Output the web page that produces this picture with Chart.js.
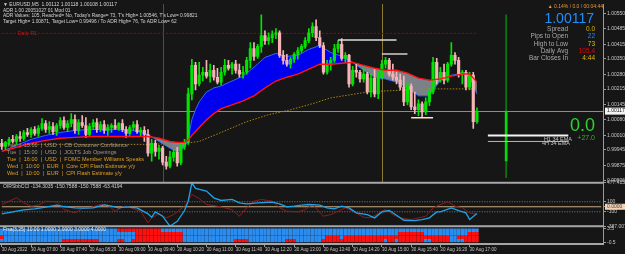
<!DOCTYPE html>
<html>
<head>
<meta charset="utf-8">
<title>EURUSD M5</title>
<script src="https://cdn.jsdelivr.net/npm/chart.js@4.4.1/dist/chart.umd.min.js"></script>
<style>
  html, body { margin: 0; padding: 0; background: #161616; }
  canvas { display: block; }
</style>
</head>
<body>
<canvas id="chart" width="625" height="254"></canvas>
<script>
// ---- data (M5 bars from 06:20) ----
var open = [0.99974,0.99960,0.99978,0.99991,0.99982,1.00004,0.99996,1.00022,1.00013,1.00035,
  1.00018,1.00040,1.00062,1.00035,1.00048,1.00026,1.00053,1.00075,1.00044,1.00062,
  1.00079,1.00031,1.00066,1.00053,1.00013,1.00048,1.00066,1.00035,1.00057,1.00031,
  1.00044,1.00053,1.00040,1.00062,1.00035,1.00018,1.00044,1.00057,1.00026,1.00031,
  1.00013,0.99930,0.99974,0.99938,0.99952,0.99890,0.99872,0.99912,0.99934,0.99886,
  0.99960,0.99978,1.00194,1.00321,1.00238,1.00277,1.00290,1.00273,1.00299,1.00268,
  1.00246,1.00290,1.00321,1.00308,1.00326,1.00299,1.00282,1.00290,1.00343,1.00396,
  1.00361,1.00405,1.00453,1.00431,1.00444,1.00458,1.00466,1.00365,1.00343,1.00326,
  1.00348,1.00370,1.00387,1.00405,1.00431,1.00466,1.00493,1.00444,1.00409,1.00290,
  1.00326,1.00343,1.00396,1.00414,1.00352,1.00365,1.00238,1.00299,1.00290,1.00260,
  1.00282,1.00202,1.00264,1.00194,1.00268,1.00326,1.00343,1.00282,1.00268,1.00255,
  1.00224,1.00158,1.00229,1.00136,1.00123,1.00150,1.00114,1.00158,1.00202,1.00334,
  1.00255,1.00290,1.00255,1.00326,1.00365,1.00343,1.00282,1.00290,1.00224,1.00277,
  1.00070];
var high = [0.99991,0.99982,1.00000,1.00009,1.00013,1.00026,1.00031,1.00040,1.00044,1.00048,
  1.00053,1.00084,1.00075,1.00070,1.00066,1.00062,1.00088,1.00092,1.00075,1.00106,
  1.00101,1.00079,1.00097,1.00088,1.00062,1.00079,1.00084,1.00070,1.00075,1.00057,
  1.00062,1.00079,1.00066,1.00079,1.00048,1.00053,1.00070,1.00075,1.00044,1.00048,
  1.00035,0.99991,0.99987,0.99965,0.99960,0.99916,0.99938,0.99947,0.99956,0.99974,
  0.99991,1.00220,1.00348,1.00334,1.00334,1.00312,1.00343,1.00326,1.00321,1.00308,
  1.00312,1.00348,1.00343,1.00334,1.00343,1.00326,1.00317,1.00356,1.00422,1.00422,
  1.00414,1.00546,1.00475,1.00466,1.00475,1.00484,1.00475,1.00387,1.00370,1.00356,
  1.00378,1.00400,1.00414,1.00444,1.00484,1.00510,1.00524,1.00475,1.00422,1.00343,
  1.00356,1.00414,1.00431,1.00440,1.00378,1.00370,1.00317,1.00326,1.00299,1.00308,
  1.00290,1.00282,1.00308,1.00290,1.00343,1.00356,1.00352,1.00326,1.00290,1.00282,
  1.00273,1.00246,1.00238,1.00202,1.00167,1.00158,1.00176,1.00220,1.00356,1.00352,
  1.00312,1.00326,1.00334,1.00422,1.00378,1.00356,1.00299,1.00299,1.00290,1.00290,
  1.00132];
var low = [0.99947,0.99943,0.99965,0.99974,0.99969,0.99982,0.99987,1.00004,1.00000,1.00009,
  1.00004,1.00031,1.00022,1.00018,1.00013,1.00009,1.00040,1.00035,1.00026,1.00048,
  1.00018,1.00013,1.00044,1.00000,1.00004,1.00035,1.00022,1.00026,1.00018,1.00009,
  1.00022,1.00035,1.00031,1.00026,1.00000,1.00009,1.00031,1.00018,1.00004,0.99982,
  0.99916,0.99894,0.99916,0.99903,0.99877,0.99859,0.99864,0.99894,0.99872,0.99877,
  0.99947,0.99969,1.00167,1.00211,1.00229,1.00251,1.00264,1.00246,1.00255,1.00238,
  1.00233,1.00277,1.00299,1.00282,1.00286,1.00268,1.00264,1.00282,1.00308,1.00343,
  1.00352,1.00378,1.00414,1.00414,1.00422,1.00440,1.00356,1.00326,1.00317,1.00308,
  1.00334,1.00348,1.00378,1.00396,1.00422,1.00449,1.00431,1.00400,1.00282,1.00282,
  1.00299,1.00334,1.00378,1.00343,1.00334,1.00224,1.00229,1.00268,1.00246,1.00246,
  1.00194,1.00180,1.00180,1.00172,1.00260,1.00308,1.00273,1.00255,1.00238,1.00211,
  1.00141,1.00145,1.00123,1.00106,1.00097,1.00088,1.00101,1.00141,1.00194,1.00238,
  1.00246,1.00238,1.00246,1.00317,1.00326,1.00268,1.00238,1.00211,1.00211,1.00040,
  1.00062];
var close = [0.99960,0.99978,0.99991,0.99982,1.00004,0.99996,1.00022,1.00013,1.00035,1.00018,
  1.00040,1.00062,1.00035,1.00048,1.00026,1.00053,1.00075,1.00044,1.00062,1.00079,
  1.00031,1.00066,1.00053,1.00013,1.00048,1.00066,1.00035,1.00057,1.00031,1.00044,
  1.00053,1.00040,1.00062,1.00035,1.00018,1.00044,1.00057,1.00026,1.00031,1.00013,
  0.99930,0.99974,0.99938,0.99952,0.99890,0.99872,0.99912,0.99934,0.99886,0.99960,
  0.99978,1.00194,1.00321,1.00238,1.00277,1.00290,1.00273,1.00299,1.00268,1.00246,
  1.00290,1.00321,1.00308,1.00326,1.00299,1.00282,1.00290,1.00343,1.00396,1.00361,
  1.00405,1.00453,1.00431,1.00444,1.00458,1.00466,1.00365,1.00343,1.00326,1.00348,
  1.00370,1.00387,1.00405,1.00431,1.00466,1.00493,1.00444,1.00409,1.00290,1.00326,
  1.00343,1.00396,1.00414,1.00352,1.00365,1.00238,1.00299,1.00290,1.00260,1.00282,
  1.00202,1.00264,1.00194,1.00268,1.00326,1.00343,1.00282,1.00268,1.00255,1.00224,
  1.00158,1.00229,1.00136,1.00123,1.00150,1.00114,1.00158,1.00202,1.00334,1.00255,
  1.00290,1.00255,1.00326,1.00365,1.00343,1.00282,1.00290,1.00224,1.00277,1.00070,
  1.00117];

// moving averages (bar index -> value)
var emaIdx = [0,4,8,12,16,20,24,28,32,36,40,43,46,48,50,51,52,53,54,56,58,60,63,66,69,72,75,78,81,84,87,90,93,96,99,102,105,108,111,114,117,120,123,126,128,130];
var emaFast = [0.99938,0.99965,0.99991,1.00009,1.00022,1.00031,1.00035,1.00035,1.00035,1.00031,1.00013,0.99982,0.99952,0.99934,0.99956,0.99996,1.00079,1.00123,1.00158,1.00202,1.00220,1.00229,1.00251,1.00273,1.00312,1.00356,1.00374,1.00361,1.00365,1.00392,1.00409,1.00378,1.00361,1.00334,1.00299,1.00268,1.00260,1.00246,1.00220,1.00185,1.00185,1.00255,1.00277,1.00286,1.00268,1.00194];
var emaSlow = [0.99938,0.99956,0.99974,0.99987,0.99996,1.00000,1.00004,1.00004,1.00004,1.00004,1.00004,0.99996,0.99982,0.99978,0.99978,0.99987,1.00009,1.00026,1.00044,1.00079,1.00106,1.00128,1.00145,1.00163,1.00185,1.00220,1.00251,1.00268,1.00282,1.00304,1.00326,1.00326,1.00330,1.00334,1.00321,1.00308,1.00299,1.00299,1.00286,1.00264,1.00255,1.00260,1.00273,1.00282,1.00282,1.00246];
var maIdx = [0,10,20,30,40,50,54,60,67,73,79,85,90,95,100,105,111,117,123,130];
var maSlow = [0.99965,0.99969,0.99969,0.99969,0.99969,0.99974,0.99982,1.00022,1.00070,1.00101,1.00123,1.00150,1.00176,1.00189,1.00202,1.00207,1.00211,1.00216,1.00216,1.00216];

// CCI window
var cciIdx = [0,3,6,9,12,15,17,20,22,25,28,30,32,34,37,40,41,42,44,46,48,50,51,52,53,56,58,60,63,65,67,70,74,76,78,80,82,84,87,89,91,93,95,97,100,102,104,106,108,110,113,115,117,119,120,123,125,127,128,130];
var cciMain = [-141,-102,-62,-42,-8,31,5,-22,-28,-22,38,12,-22,-2,-22,-141,-208,-102,-188,-387,-288,-75,111,477,364,311,178,125,145,78,58,78,91,58,-2,12,31,45,31,-22,-42,12,-22,-122,-155,-221,-102,-75,-168,-268,-274,-254,-221,-102,-102,-22,-75,-122,-254,-134];
var sigIdx = [0,2,4,6,8,10,12,15,17,20,22,24,27,29,31,33,34,38,40,41,43,45,47,50,52,54,56,59,61,63,65,67,69,71,74,76,78,81,83,85,88,90,92,94,96,99,101,104,105,107,109,112,114,116,118,120,122,124,126,128,130];
var cciSignal = [45,111,178,78,12,31,111,98,-55,-122,-35,-22,45,31,-88,-2,12,-88,-321,-221,-141,-221,-155,12,244,164,45,12,-22,-55,-188,-22,111,145,111,-22,-88,-102,-55,45,-188,-155,-88,-22,-88,-208,-221,-88,-55,-155,-221,-254,-221,-188,-22,45,98,12,-22,-122,-151];
var cciLevels = [100, -100];

// heat strip: bar ranges shown red, per row (top row first)
var heatRow3Red = [[32,43]];
var heatRow2Red = [[37,49],[109,115],[128,130]];
var heatRow1Red = [[0,0],[37,49],[89,92],[94,122],[125,130]];
var heatRow0Red = [[17,26],[32,33],[36,49],[64,67],[78,80],[88,104],[106,107],[109,115],[118,122],[127,130]];

// levels and drawn objects
var bid = 1.00117;
var dailyR1 = 1.00463;
var dayIdx = 138;
var dayOHLC = [0.99895, 1.00546, 0.99821, 1.00117];
var sessionIdx = [44, 104];
var levelLines = [[92,108,1.00434],[104,111,1.00371],[112,118,1.00088]];
var emaH1 = 1.00009, emaH4 = 0.99982;

// axis ticks
var priceTicks = [1.00550,1.00485,1.00415,1.00350,1.00280,1.00215,1.00145,1.00080,1.00010,0.99945,0.99875,0.99806];
var cciTicks = [477.4150, 100, 0, -100, -387.0071];
var heatTicks = [3.5, -0.5];
var tickIdx = [0,8,16,24,32,40,48,56,64,72,80,88,96,104,112,120,128];
var tickText = ['30 Aug 2022','30 Aug 07:00','30 Aug 07:40','30 Aug 08:20','30 Aug 09:00','30 Aug 09:40','30 Aug 10:20','30 Aug 11:00','30 Aug 11:40','30 Aug 12:20','30 Aug 13:00','30 Aug 13:40','30 Aug 14:20','30 Aug 15:00','30 Aug 15:40','30 Aug 16:20','30 Aug 17:00'];

var newsText = ['Tue  |  15:00  |  USD  |  CB Consumer Confidence','Tue  |  15:00  |  USD  |  JOLTS Job Openings','Tue  |  16:00  |  USD  |  FOMC Member Williams Speaks','Wed  |  10:00  |  EUR  |  Core CPI Flash Estimate y/y','Wed  |  10:00  |  EUR  |  CPI Flash Estimate y/y'];

// ---- build ----
var FONT = "'Liberation Sans', Arial, sans-serif";
var UP = '#00e400', DOWN = '#f6b4b8';
var slots = [];
for (var i = 0; i < 165; i++) {
  var m = 6 * 60 + 20 + 5 * i;
  slots.push(('0' + Math.floor(m / 60)).slice(-2) + ':' + ('0' + m % 60).slice(-2));
}
function pts(idx, vals) {
  return idx.map(function (k, j) { return { x: slots[k], y: vals[j] }; });
}
function hline(a, b, v) { return [{ x: slots[a], y: v }, { x: slots[b], y: v }]; }

var bodies = close.map(function (c, i) { return [Math.min(open[i], c), Math.max(open[i], c)]; });
var wicks = close.map(function (c, i) { return [low[i], high[i]]; });
var candleCol = close.map(function (c, i) { return c >= open[i] ? UP : DOWN; });
var dayBody = slots.map(function (s, i) { return i === dayIdx ? [dayOHLC[0], dayOHLC[3]] : null; });
var dayWick = slots.map(function (s, i) { return i === dayIdx ? [dayOHLC[2], dayOHLC[1]] : null; });

function heatRow(row, ranges) {
  var data = [], col = [];
  for (var i = 0; i < close.length; i++) {
    var red = ranges.some(function (r) { return i >= r[0] && i <= r[1]; });
    data.push([row - 0.42, row + 0.42]);
    col.push(red ? '#ff1010' : '#2b8df0');
  }
  return { type: 'bar', data: data, backgroundColor: col, yAxisID: 'yHeat', barThickness: 2.9, grouped: false, order: 10 };
}

var lineBase = { type: 'line', pointRadius: 0, borderWidth: 1, tension: 0, yAxisID: 'y' };
function line(opts) { return Object.assign({}, lineBase, opts); }

var datasets = [
  line({ data: pts(emaIdx, emaFast), borderColor: '#2d6cff', fill: { target: '+1', above: '#0000f0', below: '#7c8189' }, order: 8 }),
  line({ data: pts(emaIdx, emaSlow), borderColor: '#ff1414', borderWidth: 1.4, order: 1 }),
  line({ data: pts(maIdx, maSlow), borderColor: '#a8801e', borderDash: [1.5, 1.5], order: 7 }),
  { type: 'bar', data: wicks, backgroundColor: candleCol, barThickness: 1, grouped: false, yAxisID: 'y', order: 4 },
  { type: 'bar', data: bodies, backgroundColor: candleCol, barThickness: 2.5, grouped: false, yAxisID: 'y', order: 3 },
  { type: 'bar', data: dayWick, backgroundColor: '#0b7a0b', barThickness: 1, grouped: false, yAxisID: 'y', order: 4 },
  { type: 'bar', data: dayBody, backgroundColor: '#00e000', barThickness: 2, grouped: false, yAxisID: 'y', order: 3 },
  line({ data: hline(0, 130, dailyR1), borderColor: '#a80000', borderDash: [2, 2], order: 6 }),
  line({ data: hline(levelLines[0][0], levelLines[0][1], levelLines[0][2]), borderColor: '#dcdcdc', borderWidth: 1.5, order: 2 }),
  line({ data: hline(levelLines[1][0], levelLines[1][1], levelLines[1][2]), borderColor: '#d0d0d0', borderWidth: 1.5, order: 2 }),
  line({ data: hline(levelLines[2][0], levelLines[2][1], levelLines[2][2]), borderColor: '#ffe2c4', borderWidth: 1.5, order: 2 }),
  line({ data: hline(133, 155, emaH1), borderColor: '#f4f4f4', borderWidth: 2, order: 2 }),
  line({ data: hline(133, 155, emaH4), borderColor: '#b8b8b8', borderWidth: 1, order: 2 }),
  line({ data: hline(0, 164, cciLevels[0]), borderColor: '#7a7a7a', borderDash: [1, 1.5], yAxisID: 'yCci', order: 9 }),
  line({ data: hline(0, 164, cciLevels[1]), borderColor: '#7a7a7a', borderDash: [1, 1.5], yAxisID: 'yCci', order: 9 }),
  line({ data: hline(0, 164, 0), borderColor: '#c9ad85', yAxisID: 'yCci', order: 9 }),
  line({ data: pts(sigIdx, cciSignal), borderColor: '#8e1c1c', yAxisID: 'yCci', order: 5 }),
  line({ data: pts(cciIdx, cciMain), borderColor: '#1fa2e8', borderWidth: 1.3, yAxisID: 'yCci', order: 4 }),
  heatRow(3, heatRow3Red),
  heatRow(2, heatRow2Red),
  heatRow(1, heatRow1Red),
  heatRow(0, heatRow0Red)
];

function rightAxis(extra) {
  return Object.assign({
    position: 'right', stack: 'pane',
    grid: { drawOnChartArea: false, tickLength: 3, color: '#9a9a9a' },
    border: { color: '#9a9a9a' },
    afterFit: function (s) { s.width = 22; }
  }, extra);
}
function tickFont() { return { family: FONT, size: 5 }; }

function txt(ctx, s, x, y, color, size, align) {
  ctx.font = size + 'px ' + FONT;
  ctx.fillStyle = color;
  ctx.textAlign = align || 'left';
  ctx.textBaseline = 'middle';
  ctx.fillText(s, x, y);
}

var overlay = {
  id: 'overlay',
  beforeDatasetsDraw: function (chart) {
    var ctx = chart.ctx, x = chart.scales.x, y = chart.scales.y, a = chart.chartArea;
    ctx.save();
    ctx.lineWidth = 1;
    var sc = ['#8a3a1c', '#8a7a34'];
    sessionIdx.forEach(function (k, j) {
      var px = Math.round(x.getPixelForValue(k)) + 0.5;
      ctx.strokeStyle = sc[j];
      ctx.beginPath(); ctx.moveTo(px, y.top); ctx.lineTo(px, y.bottom); ctx.stroke();
    });
    var py = Math.round(y.getPixelForValue(bid)) + 0.5;
    ctx.strokeStyle = '#8c8c8c';
    ctx.beginPath(); ctx.moveTo(a.left, py); ctx.lineTo(a.right, py); ctx.stroke();
    ctx.restore();
  },
  afterDraw: function (chart) {
    var ctx = chart.ctx, a = chart.chartArea, s = chart.scales;
    ctx.save();
    // window separators
    ctx.fillStyle = '#a6a6a6';
    [s.y.bottom, s.yCci.bottom, s.yHeat.bottom].forEach(function (b) { ctx.fillRect(0, b - 1, a.right + 1, 2); });
    // price box and CCI zero box
    var py = s.y.getPixelForValue(bid);
    ctx.fillStyle = '#f2f2f2'; ctx.fillRect(a.right + 2, py - 3.5, 21, 7);
    txt(ctx, bid.toFixed(5), a.right + 4, py, '#202020', 5);
    var pz = s.yCci.getPixelForValue(0);
    ctx.fillStyle = '#f3d3b4'; ctx.fillRect(a.right + 2, pz - 3, 21, 6);
    txt(ctx, '0.0000', a.right + 4, pz, '#404040', 5);
    // header
    var hc = '#d6d6d6';
    txt(ctx, '\u25BC EURUSD,M5  1.00112 1.00118 1.00108 1.00117', 3, 5, hc, 5);
    txt(ctx, 'ADR 1.00 20051027 01 Mod 01', 3, 10.5, hc, 4.8);
    txt(ctx, "ADR Values: 105, Reached= No, Today's Range= 73, T's High= 1.00546, T's Low= 0.99821", 3, 16, hc, 4.8);
    txt(ctx, 'Target High= 1.00871, Target Low= 0.99496 / To ADR High= 76, To ADR Low= 62', 3, 21.5, hc, 4.8);
    txt(ctx, 'Daily R1', 18, 33.5, '#d01010', 5);
    // info panel
    txt(ctx, '\u25B2 0.14% / 0.0 / 00:04:44', 603, 6.5, '#e39a3a', 5, 'right');
    txt(ctx, '1.00117', 594, 19.5, '#1e8fff', 14, 'right');
    var lab = ['Spread', 'Pips to Open', 'High to Low', 'Daily Avg', 'Bar Closes In'];
    var val = ['0.0', '22', '73', '105.4', '4:44'];
    var vc = ['#d8b400', '#1e8fff', '#d4c400', '#e80000', '#e8b800'];
    lab.forEach(function (l, j) {
      var yy = 29.5 + j * 7.2;
      txt(ctx, l, 568, yy, '#a9a9a9', 6.5, 'right');
      txt(ctx, val[j], 595, yy, vc[j], 6.5, 'right');
    });
    txt(ctx, '0.0', 595, 126, '#2bd42b', 18, 'right');
    txt(ctx, '+27.0', 595, 138.5, '#24b824', 7, 'right');
    txt(ctx, 'H1 34 EMA', 572, 139, '#c4c4c4', 5.5, 'right');
    txt(ctx, '4H 34 EMA', 570, 143, '#c4c4c4', 5.5, 'right');
    // news
    newsText.forEach(function (n, j) {
      txt(ctx, n, 7, 145 + j * 7.2, j < 2 ? '#a49a8a' : '#e0a020', 5.5);
    });
    // sub window captions
    txt(ctx, 'OIRSbbCCI -134.3035 -150.7588 -150.7588 -63.4194', 3, 187, '#cfcfcf', 5);
    txt(ctx, 'Fisa(3,25) 10.00 1.0000 2.0000 3.0000 4.0000', 3, 230, '#f0f0f0', 5);
    ctx.restore();
  }
};

new Chart(document.getElementById('chart'), {
  type: 'bar',
  data: { labels: slots, datasets: datasets },
  options: {
    responsive: false,
    devicePixelRatio: 1,
    animation: false,
    events: [],
    layout: { padding: { top: 1, left: 0, right: 0, bottom: 0 } },
    plugins: { legend: { display: false }, tooltip: { enabled: false } },
    scales: {
      x: {
        type: 'category', labels: slots, offset: true,
        grid: { display: true, offset: false, drawOnChartArea: false, tickLength: 3,
          color: function (c) { return tickIdx.indexOf(c.index) >= 0 ? '#9a9a9a' : 'rgba(0,0,0,0)'; } },
        border: { display: false },
        ticks: { autoSkip: false, maxRotation: 0, minRotation: 0, align: 'start', padding: 0, color: '#c8c8c8', font: { family: FONT, size: 4.5 },
          callback: function (v, i) { var k = tickIdx.indexOf(i); return k >= 0 ? tickText[k] : ''; } },
        afterFit: function (s) { s.height = 10; }
      },
      y: rightAxis({
        stackWeight: 181, min: 0.99798, max: 1.00594,
        afterBuildTicks: function (s) { s.ticks = priceTicks.map(function (v) { return { value: v }; }); },
        ticks: { autoSkip: false, padding: 1, color: '#c8c8c8', font: tickFont(), callback: function (v) { return v.toFixed(5); } }
      }),
      yCci: rightAxis({
        stackWeight: 44, min: -387.0071, max: 477.415,
        afterBuildTicks: function (s) { s.ticks = cciTicks.map(function (v) { return { value: v }; }); },
        ticks: { autoSkip: false, padding: 1, color: '#c8c8c8', font: tickFont(),
          callback: function (v) { return Math.abs(v) === 100 ? String(v) : v.toFixed(4); } }
      }),
      yHeat: rightAxis({
        stackWeight: 18, min: -1, max: 4.2,
        afterBuildTicks: function (s) { s.ticks = heatTicks.map(function (v) { return { value: v }; }); },
        ticks: { autoSkip: false, padding: 1, color: '#c8c8c8', font: tickFont(), callback: function (v) { return v.toFixed(1); } }
      })
    }
  },
  plugins: [overlay]
});
</script>
</body>
</html>
